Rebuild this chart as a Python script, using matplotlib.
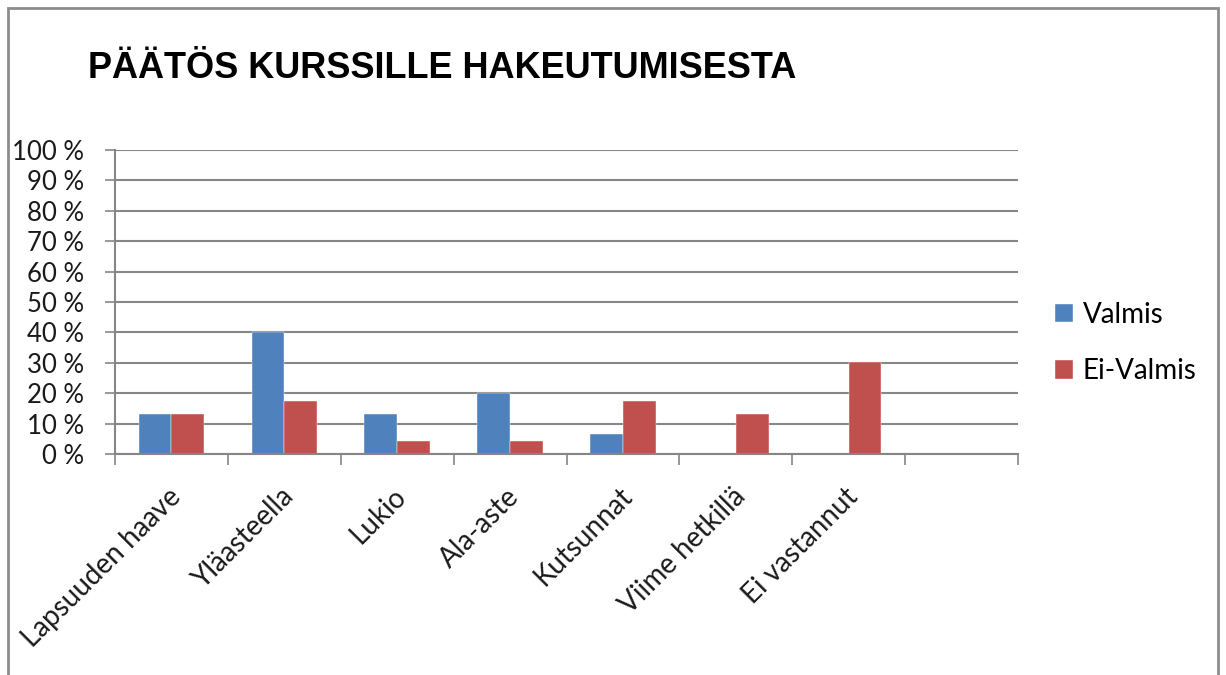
import matplotlib
matplotlib.use("Agg")
import matplotlib.pyplot as plt
import numpy as np
from matplotlib.patches import Rectangle

# data (percent)
categories = ["Lapsuuden haave", "Yläasteella", "Lukio", "Ala-aste",
              "Kutsunnat", "Viime hetkillä", "Ei vastannut", ""]
valmis = [13.3, 40.0, 13.3, 20.0, 6.7, 0, 0, 0]
ei_valmis = [13.0, 17.4, 4.3, 4.3, 17.4, 13.0, 30.4, 0]
series_names = ["Valmis", "Ei-Valmis"]
yticks = list(range(0, 101, 10))

blue = "#4F81BD"
red = "#C0504D"
grid_col = "#868686"
txt_font = "Lato"

fig = plt.figure(figsize=(12.26, 6.75), dpi=100)
fig.patch.set_facecolor("white")

# outer chart frame
fig.patches.append(Rectangle((8 / 1226, -0.05), 1210 / 1226, 1.05 - 8 / 675,
                             transform=fig.transFigure, fill=False,
                             edgecolor="#8c8c8c", linewidth=2))

ax = fig.add_axes([115 / 1226, 1 - 454 / 675, 903 / 1226, 304 / 675])

x = np.arange(len(categories))
w = 0.29
ax.bar(x - w / 2, valmis, width=w, color=blue, label=series_names[0],
       edgecolor="white", linewidth=0.3)
ax.bar(x + w / 2, ei_valmis, width=w, color=red, label=series_names[1],
       edgecolor="white", linewidth=0.3)

ax.set_xlim(-0.5, len(categories) - 0.5)
ax.set_ylim(0, 100)
ax.set_yticks(yticks)
ax.set_yticklabels([f"{v} %" for v in yticks], fontsize=18.5,
                   fontname=txt_font, color="#1a1a1a")
ax.yaxis.grid(True, color=grid_col, linewidth=1.5)
ax.set_axisbelow(True)

# category boundary tick marks
ax.set_xticks(np.arange(-0.5, len(categories), 1.0))
ax.set_xticklabels([])
ax.tick_params(axis="x", length=8, width=1.2, color=grid_col, direction="out")
ax.tick_params(axis="y", length=7, width=1.2, color=grid_col, pad=15)

for s in ["top", "right"]:
    ax.spines[s].set_visible(False)
for s in ["left", "bottom"]:
    ax.spines[s].set_color(grid_col)
    ax.spines[s].set_linewidth(1.5)

# rotated category labels
for i, c in enumerate(categories):
    ax.annotate(c, xy=(i, 0), xycoords="data", xytext=(-3, -21),
                textcoords="offset points", rotation=45, ha="right", va="top",
                rotation_mode="anchor", fontsize=20, fontname=txt_font,
                color="#1a1a1a")

fig.text(88 / 1226, 1 - 69 / 675, "PÄÄTÖS KURSSILLE HAKEUTUMISESTA",
         fontsize=26, fontweight="bold", va="center", ha="left",
         family=["Liberation Sans", "DejaVu Sans"])

leg = fig.legend(loc="center left", bbox_to_anchor=(1055 / 1226, 1 - 343 / 675),
                 frameon=False, prop={"family": txt_font, "size": 20},
                 handlelength=0.65, handleheight=0.65, handletextpad=0.35,
                 labelspacing=1.1, borderpad=0, borderaxespad=0)

fig.savefig("out.png", dpi=100)
